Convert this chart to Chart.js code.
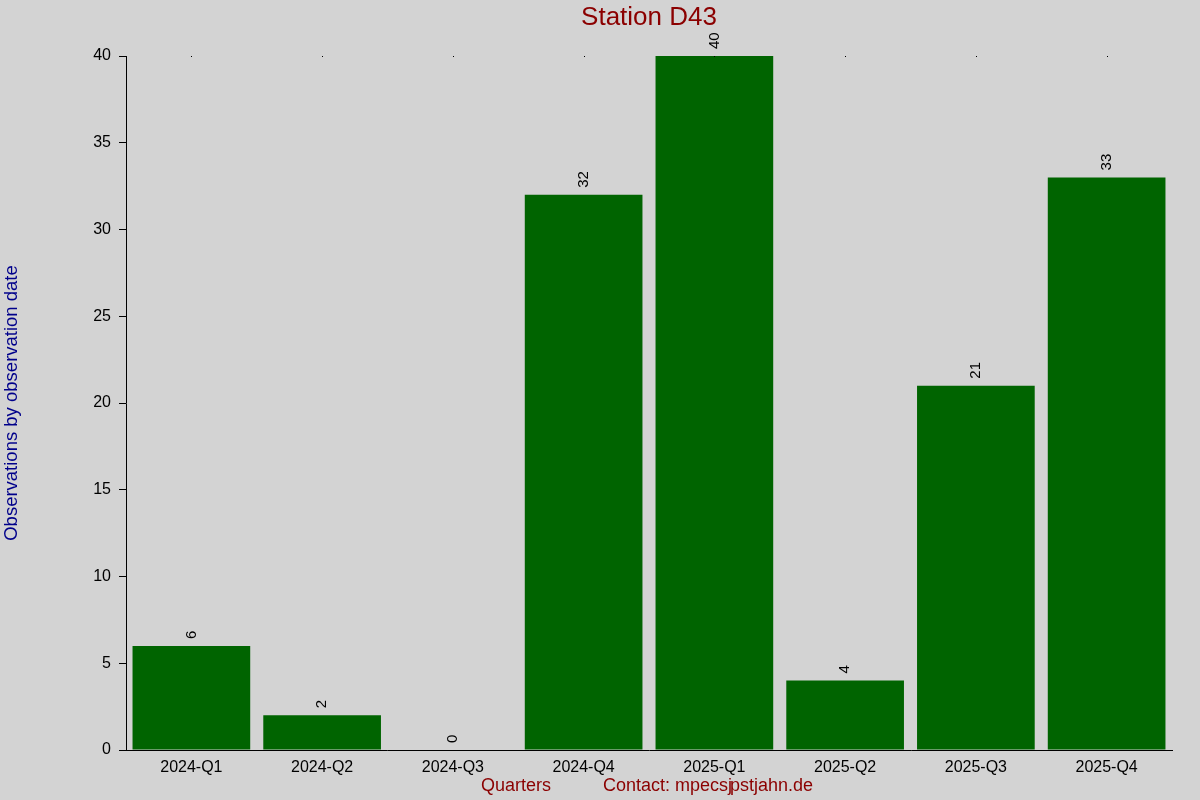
<!DOCTYPE html>
<html>
<head>
<meta charset="utf-8">
<script src="https://cdn.jsdelivr.net/npm/chart.js@4"></script>
<style>
  html, body { margin: 0; padding: 0; background: #d3d3d3; }
  #wrap { width: 1200px; height: 800px; }
</style>
</head>
<body>
<div id="wrap"><canvas id="chart"></canvas></div>
<script>
// data
const quarters = ['2024-Q1', '2024-Q2', '2024-Q3', '2024-Q4', '2025-Q1', '2025-Q2', '2025-Q3', '2025-Q4'];
const observations = [6, 2, 0, 32, 40, 4, 21, 33];
const yTicks = [0, 5, 10, 15, 20, 25, 30, 35, 40];

const titleText = 'Station D43';
const yTitleText = 'Observations by observation date';
const xTitleText = 'Quarters';
const contactText = 'Contact: mpecs';
const contactTail = 'pstjahn.de';

const FONT = '"Liberation Sans", Arial, sans-serif';

// background, title, axis titles, value labels
const decorations = {
    id: 'decorations',
    beforeDraw(chart) {
        const ctx = chart.ctx;
        ctx.save();
        ctx.fillStyle = '#d3d3d3';
        ctx.fillRect(0, 0, chart.width, chart.height);
        ctx.restore();
    },
    afterDraw(chart) {
        const ctx = chart.ctx;
        const area = chart.chartArea;
        const xs = chart.scales.x;
        const ys = chart.scales.y;
        ctx.save();

        // title
        ctx.fillStyle = '#8b0000';
        ctx.font = '26px ' + FONT;
        ctx.textAlign = 'center';
        ctx.textBaseline = 'middle';
        ctx.fillText(titleText, (area.left + area.right) / 2, 18);

        // y axis title
        ctx.save();
        ctx.translate(12, (area.top + area.bottom) / 2);
        ctx.rotate(-Math.PI / 2);
        ctx.fillStyle = '#00008b';
        ctx.font = '18.5px ' + FONT;
        ctx.fillText(yTitleText, 0, 0);
        ctx.restore();

        // bottom line: axis title + contact
        ctx.fillStyle = '#8b0000';
        ctx.font = '18px ' + FONT;
        ctx.textAlign = 'left';
        ctx.fillText(xTitleText, 481, 786);
        let cx = 603;
        ctx.fillText(contactText, cx, 786);
        cx += ctx.measureText(contactText).width;
        ctx.fillText('j', cx, 786);
        ctx.fillText(contactTail, cx + 2, 786);

        // dots along top at category centres
        ctx.fillStyle = '#000';
        quarters.forEach((q, i) => {
            ctx.fillRect(Math.round(xs.getPixelForValue(i)), area.top, 1, 1);
        });

        // value labels
        ctx.font = '15px ' + FONT;
        ctx.fillStyle = '#000';
        ctx.textAlign = 'left';
        ctx.textBaseline = 'middle';
        observations.forEach((v, i) => {
            const x = xs.getPixelForValue(i);
            const y = ys.getPixelForValue(v);
            ctx.save();
            ctx.translate(x, y - 7);
            ctx.rotate(-Math.PI / 2);
            ctx.fillText(String(v), 0, 0);
            ctx.restore();
        });

        ctx.restore();
    }
};

new Chart(document.getElementById('chart'), {
    type: 'bar',
    data: {
        labels: quarters,
        datasets: [{
            data: observations,
            backgroundColor: '#006400',
            borderWidth: 0,
            barPercentage: 0.9,
            categoryPercentage: 1.0
        }]
    },
    options: {
        responsive: true,
        maintainAspectRatio: false,
        animation: false,
        devicePixelRatio: 1,
        layout: { padding: { top: 56, right: 28, left: 0, bottom: 0 } },
        plugins: {
            legend: { display: false },
            title: { display: false },
            tooltip: { enabled: false }
        },
        scales: {
            x: {
                grid: { display: false },
                border: { display: true, color: '#000', width: 1 },
                ticks: {
                    color: '#000',
                    font: { family: FONT, size: 16 },
                    padding: 0,
                    maxRotation: 0
                },
                afterFit(scale) { scale.height = 50; }
            },
            y: {
                min: 0,
                max: 40,
                afterBuildTicks(scale) {
                    scale.ticks = yTicks.map(v => ({ value: v }));
                },
                grid: {
                    drawOnChartArea: false,
                    drawTicks: true,
                    tickLength: 7,
                    color: '#000'
                },
                border: { display: true, color: '#000', width: 1 },
                ticks: {
                    color: '#000',
                    font: { family: FONT, size: 16 },
                    padding: 8
                },
                afterFit(scale) { scale.width = 126; }
            }
        }
    },
    plugins: [decorations]
});
</script>
</body>
</html>
